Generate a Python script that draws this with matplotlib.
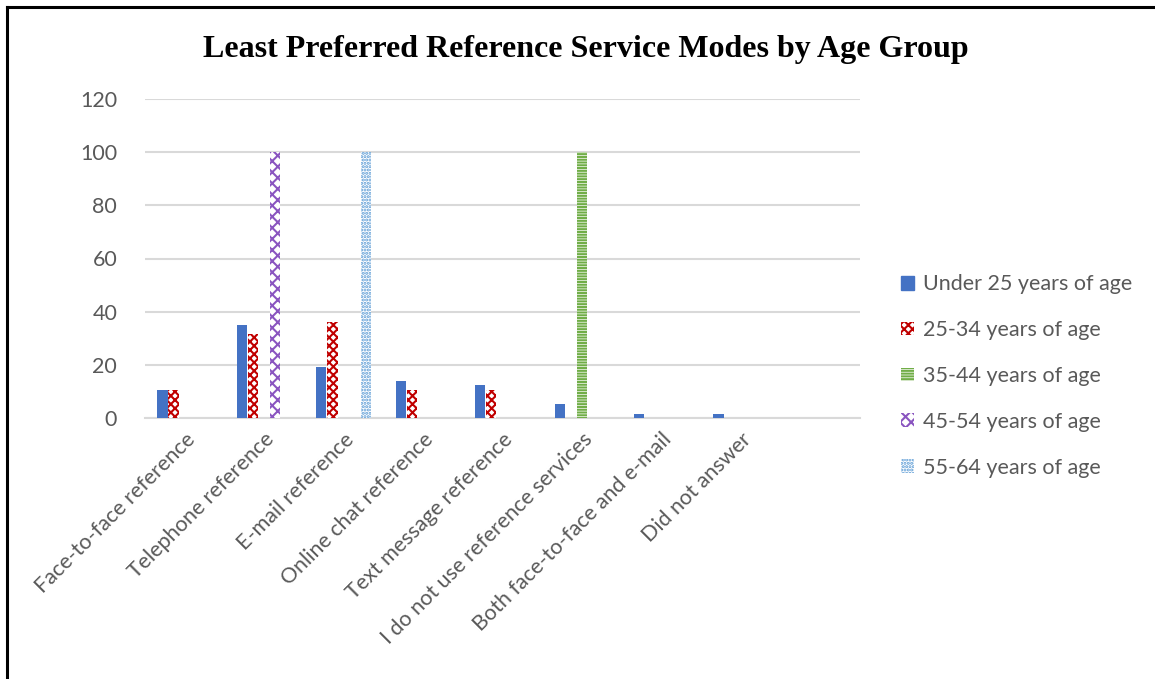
import numpy as np
import matplotlib.pyplot as plt
from matplotlib.patches import Patch
from matplotlib.lines import Line2D

# data
categories = ['Face-to-face reference', 'Telephone reference', 'E-mail reference',
              'Online chat reference', 'Text message reference',
              'I do not use reference services', 'Both face-to-face and e-mail',
              'Did not answer', '']
under25 = [10.4, 35.0, 19.1, 13.8, 12.3, 5.1, 1.6, 1.6, 0]
age25_34 = [10.4, 31.7, 36.3, 10.4, 10.4, 0, 0, 0, 0]
age35_44 = [0, 0, 0, 0, 0, 100, 0, 0, 0]
age45_54 = [0, 100, 0, 0, 0, 0, 0, 0, 0]
age55_64 = [0, 0, 100, 0, 0, 0, 0, 0, 0]
series_names = ['Under 25 years of age', '25-34 years of age', '35-44 years of age',
                '45-54 years of age', '55-64 years of age']

plt.rcParams['hatch.linewidth'] = 1.5
plt.rcParams['font.family'] = ['Lato', 'DejaVu Sans']

styles = [
    dict(color='#4472C4'),
    dict(facecolor='white', edgecolor='#C00000', hatch='xxxx', linewidth=0),
    dict(facecolor='white', edgecolor='#70AD47', hatch='------', linewidth=0),
    dict(facecolor='white', edgecolor='#8A55C0', hatch='xxx', linewidth=0),
    dict(facecolor='white', edgecolor='#5B9BD5', hatch='.....', linewidth=0),
]

fig = plt.figure(figsize=(11.55, 6.79), dpi=100)
ax = fig.add_axes([145 / 1155, 1 - 418 / 679, 715 / 1155, 319 / 679])

x = np.arange(len(categories))
w = 0.14
all_series = [under25, age25_34, age35_44, age45_54, age55_64]
for i, vals in enumerate(all_series):
    ax.bar(x + (i - 2) * w, vals, w * 0.92, zorder=3, **styles[i])

ax.set_xlim(-0.5, len(categories) - 0.5)
ax.set_ylim(0, 120)
ax.set_yticks(range(0, 121, 20))
ax.yaxis.grid(True, color='#D9D9D9', linewidth=1.5, zorder=0)
ax.set_xticks(x)
ax.set_xticklabels(categories, rotation=45, ha='right', rotation_mode='anchor')
ax.tick_params(length=0, labelsize=15.5, labelcolor='#595959')
ax.tick_params(axis='y', pad=20)
ax.tick_params(axis='x', pad=8)
for s in ['top', 'right', 'left']:
    ax.spines[s].set_visible(False)
ax.spines['bottom'].set_color('#D9D9D9')
ax.spines['bottom'].set_linewidth(1.5)

fig.text(0.507, 1 - 50 / 679, 'Least Preferred Reference Service Modes by Age Group',
         ha='center', va='center', fontsize=23, fontweight='bold',
         family='Liberation Serif')

handles = [Patch(label=n, **styles[i]) for i, n in enumerate(series_names)]
fig.legend(handles=handles, loc='center left', bbox_to_anchor=(882 / 1155, 1 - 376 / 679),
           frameon=False, fontsize=15.5, labelcolor='#595959', handlelength=0.6,
           handleheight=0.6, handletextpad=0.4, labelspacing=1.2)

# outer frame (left and top edges visible)
fig.add_artist(Line2D([7 / 1155, 7 / 1155], [0, 1 - 7 / 679], color='black', linewidth=2.2))
fig.add_artist(Line2D([7 / 1155, 1], [1 - 7 / 679, 1 - 7 / 679], color='black', linewidth=2.2))

plt.savefig('out.png', dpi=100)
